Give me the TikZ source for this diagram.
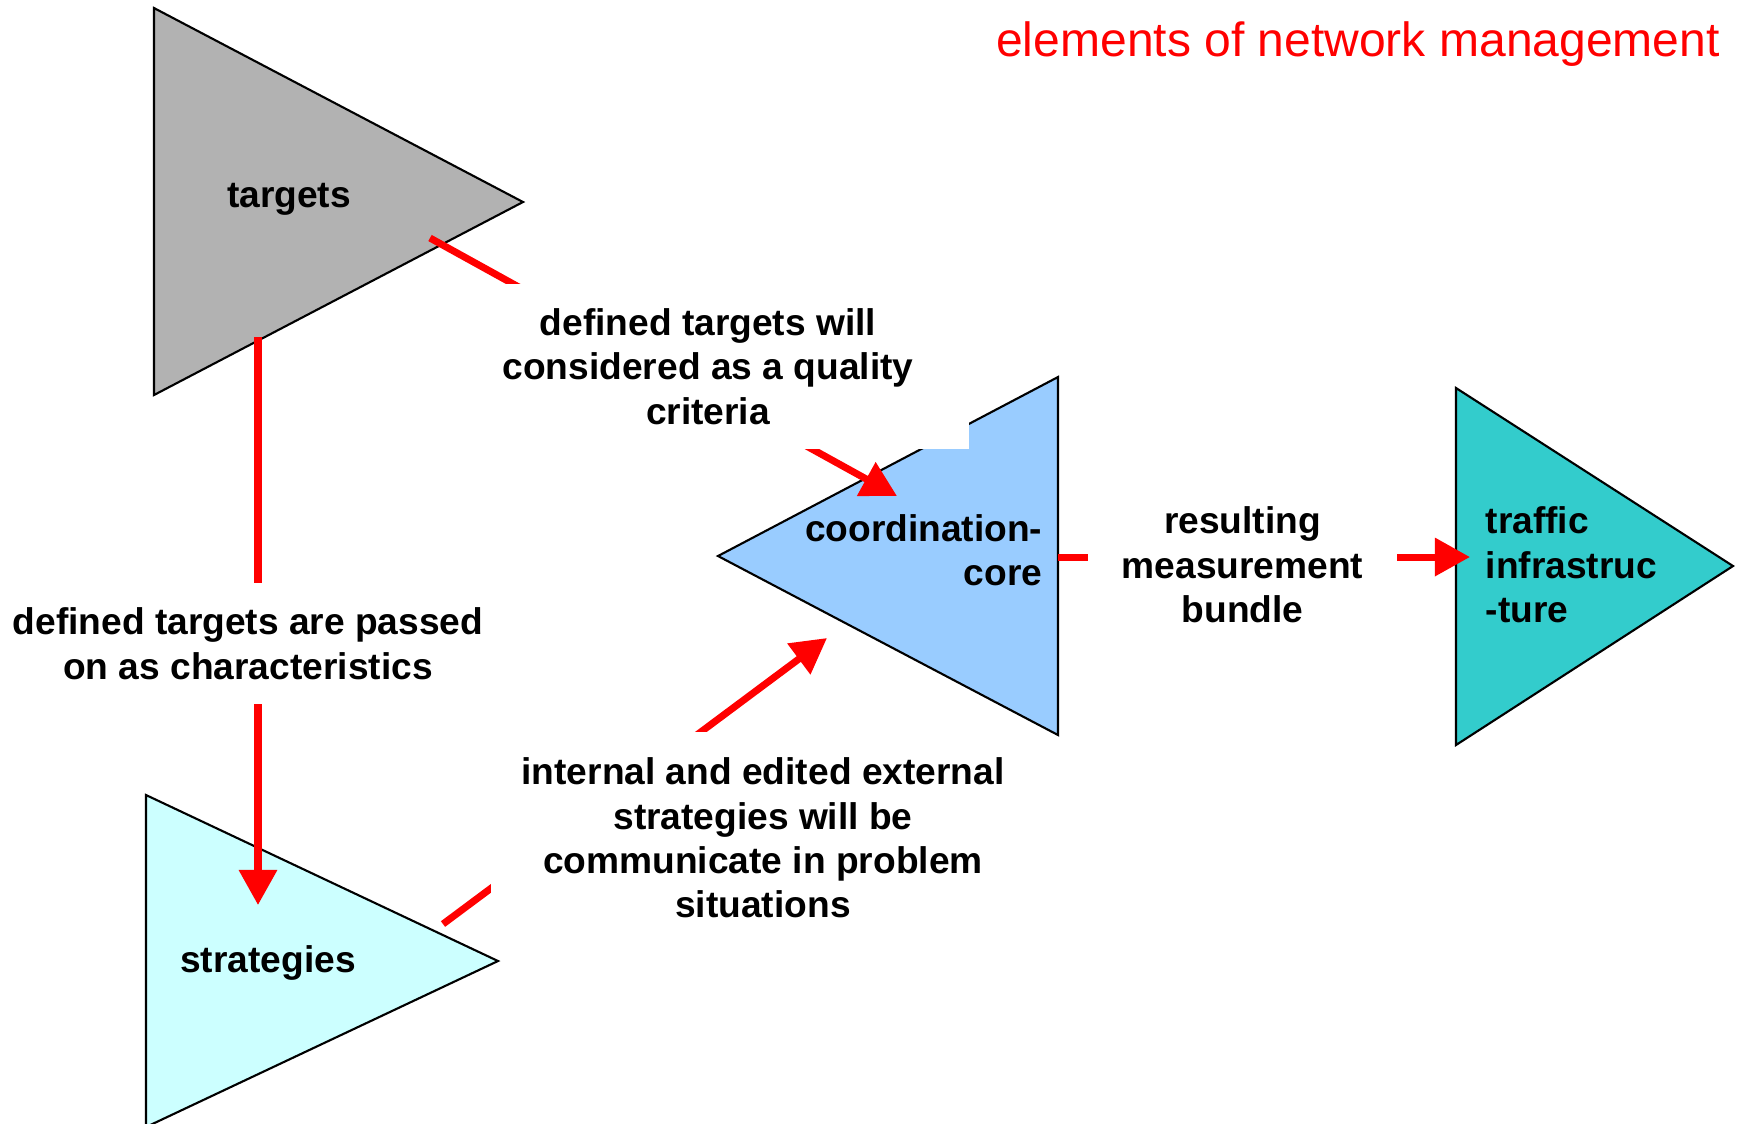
\documentclass[tikz,border=0pt]{standalone}
\usepackage{fontspec}
\setmainfont{Liberation Sans}
\usetikzlibrary{arrows.meta}
\definecolor{tgtgray}{RGB}{178,178,178}
\definecolor{stratcyan}{RGB}{204,255,255}
\definecolor{coreblue}{RGB}{153,204,255}
\definecolor{traffteal}{RGB}{51,204,204}

\begin{document}
\begin{tikzpicture}[x=0.01cm, y=-0.01cm,
  tri/.style={draw=black, line width=0.6pt},
  lbl/.style={font=\fontsize{10.56pt}{12.63pt}\selectfont\bfseries, inner sep=0pt},
  note/.style={lbl, fill=white, align=center},
  flow/.style={draw=red, line width=2pt, -{Triangle[length=10pt, width=10.5pt]}}]
\useasboundingbox (0,0) rectangle (1740,1123);
% the four triangles
\filldraw[tri, fill=tgtgray] (154,8) -- (523,202) -- (154,395) -- cycle;
\filldraw[tri, fill=stratcyan] (146,795) -- (498,961) -- (146,1127) -- cycle;
\filldraw[tri, fill=coreblue] (1058,377) -- (718,556) -- (1058,735) -- cycle;
\filldraw[tri, fill=traffteal] (1456,388) -- (1733,566) -- (1456,745) -- cycle;
\node[lbl] (targets) at (289,199) {targets};
\node[lbl] (strategies) at (268,963) {strategies};
\node[lbl, align=right, anchor=east] (coord) at (1043,550) {coordination-\\core};
\node[lbl, align=left, anchor=west] (traffic) at (1485,565) {traffic\\infrastruc\\-ture};
\node[text=red, font=\fontsize{13.66pt}{16pt}\selectfont, inner sep=0pt] (title) at (1358,44) {elements of network management};
% arrow ends
\coordinate (tgtout) at (430,238);
\coordinate (corein) at (897,496);
\coordinate (tgtdown) at (258,337);
\coordinate (stratin) at (258,905);
\coordinate (stratout) at (443,924);
\coordinate (corein2) at (827,638);
\coordinate (coreout) at (1058,557);
\coordinate (traffin) at (1470,557);
\draw[flow] (tgtout) -- (corein);
\draw[flow] (tgtdown) -- (stratin);
\draw[flow] (stratout) -- (corein2);
\draw[flow] (coreout) -- (traffin);
% white text boxes on top
\node[note, minimum width=5.22cm, minimum height=1.65cm] (qualnote) at (708,366.5)
  {defined targets will\\considered as a quality\\criteria};
\node[note, minimum width=5.0cm, minimum height=1.21cm] (passnote) at (248,643.5)
  {defined targets are passed\\on as characteristics};
\node[note, minimum width=5.44cm, minimum height=2.12cm] (stratnote) at (763,838)
  {internal and edited external\\strategies will be\\communicate in problem\\situations};
\node[note, minimum width=3.09cm, minimum height=1.6cm] (bundlenote) at (1242.5,565)
  {resulting\\measurement\\bundle};
\end{tikzpicture}
\end{document}
